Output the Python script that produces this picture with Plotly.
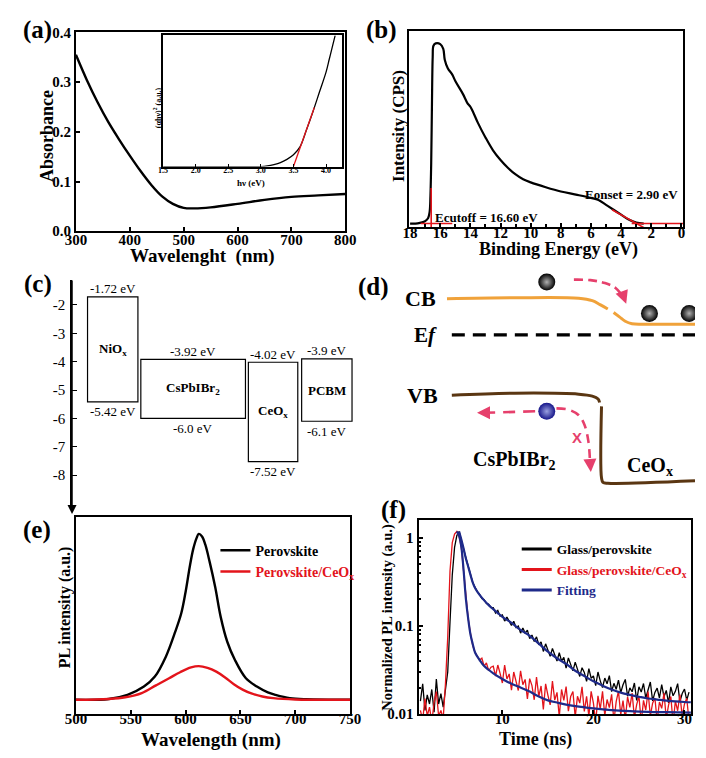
import plotly.graph_objects as go

SERIF = "Liberation Serif"
W, H = 706, 758

# ---------------- (a) absorbance + Tauc inset ----------------
abs_wavelength = [300, 320, 340, 360, 380, 400, 420, 440, 460, 480, 500, 520, 550, 600, 650, 700, 750, 800]
abs_value = [0.355, 0.305, 0.26, 0.22, 0.185, 0.152, 0.121, 0.093, 0.07, 0.055, 0.047, 0.046, 0.048, 0.055, 0.063,
             0.069, 0.072, 0.075]
tauc_hv = [1.5, 2.0, 2.5, 3.0, 3.1, 3.2, 3.3, 3.4, 3.5, 3.6, 3.7, 3.8, 3.9, 4.0, 4.05, 4.1, 4.14]
tauc_value = [0, 0, 0, 0, 0.005, 0.015, 0.03, 0.055, 0.09, 0.15, 0.28, 0.42, 0.57, 0.72, 0.82, 0.92, 1.0]
tauc_fit_hv = [3.50, 3.82]
tauc_fit_value = [0.0, 0.45]

# ---------------- (b) UPS ----------------
ups_be = [18.0, 17.5, 17.2, 17.0, 16.8, 16.7, 16.65, 16.6, 16.55, 16.5, 16.45, 16.3, 16.0, 15.8, 15.7,
          15.5, 15.2, 15.0, 14.5, 14.2, 14.0, 13.8, 13.5, 13.0, 12.5, 12.0, 11.5, 11.0, 10.5, 10.0,
          9.0, 8.0, 7.0, 6.0, 5.5, 5.0, 4.5, 4.0, 3.5, 3.0, 2.5]
ups_intensity = [0.007, 0.008, 0.013, 0.02, 0.036, 0.07, 0.15, 0.32, 0.62, 0.864, 0.922, 0.934, 0.93, 0.906, 0.85,
                 0.806, 0.773, 0.74, 0.674, 0.627, 0.608, 0.577, 0.525, 0.45, 0.384, 0.334, 0.293, 0.26, 0.235, 0.219,
                 0.194, 0.172, 0.156, 0.139, 0.128, 0.103, 0.078, 0.053, 0.028, 0.012, 0.007]
E_CUTOFF = 16.60
E_ONSET = 2.90
cutoff_line_be = [E_CUTOFF, E_CUTOFF]
cutoff_line_int = [-0.03, 0.19]
cutoff_base_be = [17.3, 15.2]
onset_tangent_be = [4.6, 2.4]
onset_tangent_int = [0.078, -0.018]
onset_base_be = [3.3, -0.2]
base_int = [0.007, 0.007]

# ---------------- (c) energy levels ----------------
materials = ["NiO<sub>x</sub>", "CsPbIBr<sub>2</sub>", "CeO<sub>x</sub>", "PCBM"]
level_top = [-1.72, -3.92, -4.02, -3.9]
level_bottom = [-5.42, -6.0, -7.52, -6.1]
top_labels = ["-1.72 eV", "-3.92 eV", "-4.02 eV", "-3.9 eV"]
bottom_labels = ["-5.42 eV", "-6.0 eV", "-7.52 eV", "-6.1 eV"]
energy_ticks = [-2, -3, -4, -5, -6, -7, -8]
energy_ticktext = ["-2", "-3", "-4", "-5", "-6", "-7", "-8"]

# ---------------- (e) steady-state PL ----------------
pl_wl_black = [500, 530, 547, 562, 572, 582, 590, 596, 600, 604, 607, 610, 612, 615, 618, 622, 627, 632,
               638, 645, 655, 665, 675, 682, 695, 710, 750]
pl_black = [0, 0.005, 0.03, 0.08, 0.14, 0.26, 0.4, 0.52, 0.65, 0.81, 0.91, 0.975, 1.0, 0.985, 0.935, 0.83, 0.68, 0.5,
            0.35, 0.24, 0.13, 0.08, 0.045, 0.03, 0.01, 0.003, 0]
pl_wl_red = [500, 530, 545, 560, 573, 585, 595, 605, 612, 620, 628, 636, 644, 652, 660, 670, 680, 700, 750]
pl_red = [0, 0.005, 0.015, 0.04, 0.087, 0.13, 0.166, 0.195, 0.203, 0.193, 0.17, 0.135, 0.094, 0.061, 0.038, 0.02,
          0.01, 0.002, 0]

# ---------------- (f) TRPL ----------------
trpl_time = [1.0, 1.25, 1.5, 1.75, 2.0, 2.25, 2.5, 2.75, 3.0, 3.25, 3.5, 3.75, 4.0, 4.25, 4.5, 4.75,
             5.0, 5.25, 5.5, 5.75, 6.0, 6.25, 6.5, 6.75, 7.0, 7.25, 7.5, 7.75, 8.0, 8.25, 8.5, 8.75,
             9.0, 9.25, 9.5, 9.75, 10.0, 10.25, 10.5, 10.75, 11.0, 11.25, 11.5, 11.75, 12.0, 12.25, 12.5, 12.75,
             13.0, 13.25, 13.5, 13.75, 14.0, 14.25, 14.5, 14.75, 15.0, 15.25, 15.5, 15.75, 16.0, 16.25, 16.5, 16.75,
             17.0, 17.25, 17.5, 17.75, 18.0, 18.25, 18.5, 18.75, 19.0, 19.25, 19.5, 19.75, 20.0, 20.25, 20.5, 20.75,
             21.0, 21.25, 21.5, 21.75, 22.0, 22.25, 22.5, 22.75, 23.0, 23.25, 23.5, 23.75, 24.0, 24.25, 24.5, 24.75,
             25.0, 25.25, 25.5, 25.75, 26.0, 26.25, 26.5, 26.75, 27.0, 27.25, 27.5, 27.75, 28.0, 28.25, 28.5, 28.75,
             29.0, 29.25, 29.5, 29.75, 30.0, 30.25, 30.5]
trpl_glass = [0.014, 0.022, 0.011, 0.0165, 0.013, 0.019, 0.0105, 0.025, 0.013, 0.017, 0.012, 0.020,
              0.030, 0.11, 0.38, 0.78, 1.06, 1.18, 0.96, 0.74,
              0.59, 0.47, 0.39, 0.31, 0.275, 0.245, 0.228, 0.205, 0.198, 0.18, 0.176, 0.161,
              0.161, 0.14, 0.15, 0.129, 0.133, 0.1135, 0.126, 0.114, 0.1015, 0.113, 0.096, 0.0996, 0.0828, 0.0948, 0.083, 0.0896,
              0.0716, 0.0788, 0.0665, 0.0752, 0.0611, 0.066, 0.0513, 0.0626, 0.0525, 0.0451, 0.0555, 0.0473, 0.04, 0.0498, 0.04, 0.0439,
              0.0333, 0.0433, 0.036, 0.0309, 0.0388, 0.0312, 0.0267, 0.0336, 0.0297, 0.0235, 0.0328, 0.0255, 0.027, 0.021, 0.030, 0.0238,
              0.020, 0.0256, 0.022, 0.0273, 0.018, 0.0223, 0.0191, 0.0242, 0.0175, 0.0215, 0.0247, 0.0159, 0.0198, 0.0179, 0.0225, 0.0143,
              0.0204, 0.0178, 0.0222, 0.0152, 0.0188, 0.0231, 0.0141, 0.0176, 0.0197, 0.0152, 0.0216, 0.0157, 0.0185, 0.0134, 0.0203, 0.0161,
              0.0181, 0.0221, 0.0138, 0.0171, 0.0192, 0.0144, 0.0177]
trpl_ceox = [0.011, 0.0085, 0.015, 0.0095, 0.012, 0.008, 0.0135, 0.018, 0.0095, 0.011, 0.0088, 0.022,
             0.075, 0.42, 0.88, 1.1, 1.18, 1.04, 0.77, 0.40,
             0.21, 0.12, 0.082, 0.06, 0.05, 0.046, 0.041, 0.043, 0.035, 0.038, 0.031, 0.034,
             0.035, 0.027, 0.036, 0.029, 0.0225, 0.036, 0.025, 0.0285, 0.0187, 0.030, 0.024, 0.0185, 0.031, 0.0215, 0.0247, 0.0148,
             0.0252, 0.021, 0.0145, 0.0262, 0.0158, 0.0208, 0.0113, 0.022, 0.0164, 0.0127, 0.0236, 0.0144, 0.0176, 0.0093, 0.019, 0.0143,
             0.0205, 0.0108, 0.0158, 0.018, 0.0092, 0.0159, 0.0133, 0.0204, 0.0107, 0.0159, 0.0094, 0.0181, 0.0133, 0.008, 0.0161, 0.0114,
             0.0181, 0.0096, 0.0146, 0.0118, 0.0167, 0.0083, 0.0138, 0.0182, 0.0098, 0.0142, 0.0087, 0.0157, 0.0119, 0.0173, 0.0091, 0.0128,
             0.016, 0.008, 0.0143, 0.0111, 0.018, 0.0095, 0.0133, 0.0152, 0.0084, 0.0137, 0.0116, 0.0173, 0.0089, 0.0126, 0.0158, 0.0079,
             0.014, 0.0109, 0.0166, 0.0094, 0.013, 0.0151, 0.0083]
fit_glass_time = [5.25, 5.5, 5.75, 6.0, 6.25, 6.5, 6.75, 7.0, 7.5, 8.0, 8.5, 9.0, 9.5, 10, 11, 12, 13, 14, 15, 16, 17,
                  18, 19, 20, 21, 22, 23, 24, 25, 26, 27, 28, 29, 30, 30.7]
fit_glass = [1.18, 0.95, 0.75, 0.58, 0.47, 0.38, 0.31, 0.27, 0.225, 0.195, 0.172, 0.155, 0.14, 0.127, 0.108, 0.09,
             0.077, 0.063, 0.051, 0.043, 0.037, 0.031, 0.027, 0.0235, 0.021, 0.019, 0.0175, 0.0165, 0.0157, 0.015,
             0.0146, 0.0142, 0.0139, 0.0137, 0.0136]
fit_ceox_time = [5.0, 5.25, 5.5, 5.75, 6.0, 6.25, 6.5, 6.75, 7.0, 7.5, 8.0, 9.0, 10, 11, 12, 13, 14, 15, 16, 17, 18,
                 20, 22, 24, 26, 28, 30.7]
fit_ceox = [1.18, 1.05, 0.78, 0.42, 0.2, 0.12, 0.08, 0.062, 0.05, 0.041, 0.035, 0.029, 0.025, 0.022, 0.02, 0.018,
            0.0158, 0.0143, 0.0135, 0.0128, 0.0123, 0.0116, 0.0111, 0.0108, 0.0106, 0.0105, 0.0104]

RED = "#E3141B"
BLUE = "#1E2A8A"
PINK = "#E6406C"
ORANGE = "#F0A23A"
BROWN = "#5A3612"

fig = go.Figure()


def dx(a, b):
    return [a / W, b / W]


def dy(top, bottom):
    return [1 - bottom / H, 1 - top / H]


def line(x, y, ax, color, width=2.0, dash=None, shape="spline", legend=None, name=None, showlegend=False):
    kw = dict(x=x, y=y, mode="lines", xaxis="x" + ax, yaxis="y" + ax,
              line=dict(color=color, width=width, dash=dash, shape=shape),
              showlegend=showlegend, hoverinfo="skip")
    if legend:
        kw["legend"] = legend
    if name:
        kw["name"] = name
    fig.add_trace(go.Scatter(**kw))


# (a)
line(abs_wavelength, abs_value, "", "black", 2.4)
line(tauc_hv, tauc_value, "2", "black", 1.3)
line(tauc_fit_hv, tauc_fit_value, "2", RED, 1.3, shape="linear")
# (b)
line(ups_be, ups_intensity, "3", "black", 2.2)
line(cutoff_line_be, cutoff_line_int, "3", RED, 1.6, shape="linear")
line(cutoff_base_be, base_int, "3", RED, 1.6, shape="linear")
line(onset_tangent_be, onset_tangent_int, "3", RED, 1.6, shape="linear")
line(onset_base_be, base_int, "3", RED, 1.6, shape="linear")
# (e)
line(pl_wl_black, pl_black, "6", "black", 2.4, legend="legend", name="Perovskite", showlegend=True)
line(pl_wl_red, pl_red, "6", RED, 2.4, legend="legend",
     name="<span style='color:%s'>Perovskite/CeO<sub>x</sub></span>" % RED, showlegend=True)
# (f)
line(trpl_time, trpl_glass, "7", "black", 1.3, shape="linear")
line(trpl_time, trpl_ceox, "7", RED, 1.3, shape="linear")
line(fit_glass_time, fit_glass, "7", BLUE, 2.2)
line(fit_ceox_time, fit_ceox, "7", BLUE, 2.2)
# legend entries for (f) drawn with thicker sample lines
line([None], [None], "7", "black", 3, legend="legend2", name="Glass/perovskite", showlegend=True)
line([None], [None], "7", RED, 3, legend="legend2",
     name="<span style='color:%s'>Glass/perovskite/CeO<sub>x</sub></span>" % RED, showlegend=True)
line([None], [None], "7", BLUE, 3, legend="legend2",
     name="<span style='color:%s'>Fitting</span>" % BLUE, showlegend=True)

# (d) schematic (pixel-like coordinates on a hidden axis)
line([450, 520, 586, 600, 608, 616], [297, 296, 296.5, 299, 303, 307.5], "5", ORANGE, 3)
line([622, 628, 634, 641, 652, 706], [311, 315.5, 320, 322.5, 323, 323], "5", ORANGE, 3)
line([455, 706], [334, 334], "5", "black", 3.2, dash="13px,8px", shape="linear")
line([455, 520, 586, 600, 606, 607.5], [395.5, 393.5, 394.5, 396.5, 399.5, 403], "5", BROWN, 3)
line([609.5, 609.5, 611, 616, 706], [407, 480, 484.5, 485.5, 483], "5", BROWN, 3)
line([581, 598, 613, 624, 631], [277.5, 278, 281, 286, 294], "5", PINK, 2.6, dash="9px,5px")
line([541, 488], [412, 413.5], "5", PINK, 2.6, dash="12px,8px", shape="linear")
line([563, 576, 586, 592, 596, 597.5], [409, 410.5, 416, 426, 443, 461], "5", PINK, 2.6, dash="9px,6px")
fig.add_trace(go.Scatter(x=[553, 659, 700], y=[280, 312, 312], mode="markers", xaxis="x5", yaxis="y5",
                         marker=dict(size=17, color="black", gradient=dict(type="radial", color="#b0b0b0"),
                                     line=dict(width=0)), showlegend=False, hoverinfo="skip"))
fig.add_trace(go.Scatter(x=[553], y=[412], mode="markers", xaxis="x5", yaxis="y5",
                         marker=dict(size=17, color="#16168a", gradient=dict(type="radial", color="#9aa0e0"),
                                     line=dict(width=0)), showlegend=False, hoverinfo="skip"))

shapes = []
annotations = []


def note(x, y, text, xref, yref, size, family=SERIF, color="black", xanchor="center", angle=0, **kw):
    d = dict(x=x, y=y, xref=xref, yref=yref, text=text, showarrow=False, xanchor=xanchor, yanchor="middle",
             textangle=angle, font=dict(family=family, size=size, color=color))
    d.update(kw)
    annotations.append(d)


# (c) energy axis line and boxes
shapes.append(dict(type="line", xref="x4", yref="y4", x0=63, x1=63, y0=-1.128, y1=-9.25,
                   line=dict(color="black", width=1.5)))
box_left = [79, 134, 245, 300]
box_right = [131, 242, 296, 352]
for i in range(4):
    shapes.append(dict(type="rect", xref="x4", yref="y4", x0=box_left[i], x1=box_right[i],
                       y0=level_bottom[i], y1=level_top[i], line=dict(color="black", width=1.2)))
    cx = (box_left[i] + box_right[i]) / 2
    note(cx, level_top[i], top_labels[i], "x4", "y4", 13, yshift=8)
    note(cx, level_bottom[i], bottom_labels[i], "x4", "y4", 13, yshift=-10)
    note(cx, (level_top[i] + level_bottom[i]) / 2, "<b>%s</b>" % materials[i], "x4", "y4", 13)
annotations.append(dict(x=63, y=-9.37, ax=63, ay=-9.0, xref="x4", yref="y4", axref="x4", ayref="y4",
                        text="", showarrow=True, arrowhead=2, arrowsize=1.2, arrowwidth=1.5, arrowcolor="black"))

# (b) labels
note(16.46, 0.036, "<b>Ecutoff = 16.60 eV</b>", "x3", "y3", 13, xanchor="left")
note(0.07, 0.156, "<b>Eonset = 2.90 eV</b>", "x3", "y3", 13, xanchor="right")

# (d) arrow heads and texts
for (hx, hy, tx, ty) in [(635, 302, 632, 294), (481, 413.5, 490, 413.5), (598.5, 474, 597.6, 462)]:
    annotations.append(dict(x=hx, y=hy, ax=tx, ay=ty, xref="x5", yref="y5", axref="x5", ayref="y5", text="",
                            showarrow=True, arrowhead=2, arrowsize=1.0, arrowwidth=2.6, arrowcolor=PINK))
note(584, 439, "<b>X</b>", "x5", "y5", 15, family="Liberation Sans", color=PINK)
for (tx, ty, txt, sz) in [(423, 297, "<b>CB</b>", 22), (428, 334, "<b>E<i>f</i></b>", 21), (425, 396, "<b>VB</b>", 22),
                          (520, 462, "<b>CsPbIBr<sub>2</sub></b>", 20), (660, 468, "<b>CeO<sub>x</sub></b>", 20)]:
    note(tx, ty, txt, "x5", "y5", sz)

# panel labels
for (lx, ly, t) in [(27, 22, "(a)"), (382, 22, "(b)"), (28, 282, "(c)"), (374, 285, "(d)"), (27, 533, "(e)"),
                    (395, 513, "(f)")]:
    note(lx / W, 1 - ly / H, "<b>%s</b>" % t, "paper", "paper", 25)

# axis titles (placed where the reference puts them)
for (tx, ty, txt, sz, ang) in [
        (198, 253, "Wavelenght\u00a0 (nm)", 19, 0), (37, 131, "Absorbance", 18, -90),
        (248, 179, "h\u03bd (eV)", 9, 0), (151, 102, "(\u03b1h\u03bd)<sup>2</sup> (a.u.)", 8, -90),
        (565, 247, "Binding Energy (eV)", 18, 0), (400, 121, "Intensity (CPS)", 17, -90),
        (206, 748, "Wavelength (nm)", 19, 0), (56, 612, "PL intensity (a.u.)", 16, -90),
        (541, 747, "Time (ns)", 18, 0), (389, 622, "Normalized PL intensity (a.u.)", 14.5, -90)]:
    note(tx / W, 1 - ty / H, "<b>%s</b>" % txt, "paper", "paper", sz, angle=ang)

tickfont = dict(family=SERIF, size=15, color="black", weight="bold")


def frame(**kw):
    d = dict(showline=True, linecolor="black", linewidth=2, mirror=True, showgrid=False, zeroline=False,
             ticks="inside", ticklen=4, tickwidth=1.5, tickcolor="black", tickfont=tickfont)
    d.update(kw)
    return d


layout = dict(
    width=W, height=H, margin=dict(l=0, r=0, t=0, b=0), paper_bgcolor="white", plot_bgcolor="rgba(0,0,0,0)",
    showlegend=True,
    xaxis=frame(domain=dx(67, 345), anchor="y", range=[300, 800], dtick=100, ticklabelstandoff=-6),
    yaxis=frame(domain=dy(25, 228), anchor="x", range=[0, 0.4], dtick=0.1, tickformat=".1f"),
    xaxis2=frame(domain=dx(157, 342), anchor="y2", range=[1.5, 4.25], dtick=0.5, tickformat=".1f", linewidth=1.5,
                 ticklen=3, tickwidth=1, ticklabelstandoff=-5,
                 tickfont=dict(family=SERIF, size=8, color="black", weight="bold")),
    yaxis2=frame(domain=dy(28, 162), anchor="x2", range=[0, 1.0], showticklabels=False, ticks="", linewidth=1.5),
    xaxis3=frame(domain=dx(411, 694), anchor="y3", range=[18.06, -0.13], tickvals=[18, 16, 14, 12, 10, 8, 6, 4, 2, 0],
                 minor=dict(ticks="inside", ticklen=3, dtick=1, tickcolor="black"), ticklabelstandoff=-9),
    yaxis3=frame(domain=dy(23, 224), anchor="x3", range=[-0.012, 1.0], showticklabels=False, ticks=""),
    xaxis4=dict(domain=dx(63, 355), anchor="y4", range=[63, 355], visible=False),
    yaxis4=dict(domain=dy(278, 510), anchor="x4", range=[-9.128, -1.128], showline=True, linecolor="black",
                linewidth=1.5, showgrid=False, zeroline=False, ticks="inside", ticklen=5, tickwidth=1.2,
                tickcolor="black", tickvals=energy_ticks, ticktext=energy_ticktext, ticklabelstandoff=2,
                tickfont=dict(family=SERIF, size=15, color="black")),
    xaxis5=dict(domain=dx(353, 706), anchor="y5", range=[353, 706], visible=False),
    yaxis5=dict(domain=dy(262, 500), anchor="x5", range=[500, 262], visible=False),
    xaxis6=frame(domain=dx(67, 350), anchor="y6", range=[500, 750], dtick=50, ticklabelstandoff=-10),
    yaxis6=frame(domain=dy(520, 721.7), anchor="x6", range=[-0.0885, 1.102], showticklabels=False, ticks=""),
    xaxis7=frame(domain=dx(420.7, 702), anchor="y7", range=[0.8, 30.73], tickvals=[10, 20, 30],
                 ticklabelstandoff=-10),
    yaxis7=frame(domain=dy(522.7, 721.7), anchor="x7", type="log", range=[-2.005, 0.206],
                 tickvals=[0.01, 0.1, 1], ticktext=["0.01", "0.1", "1"],
                 minor=dict(ticks="inside", ticklen=2.5, tickcolor="black",
                            tickvals=[0.02, 0.03, 0.04, 0.05, 0.06, 0.07, 0.08, 0.09,
                                      0.2, 0.3, 0.4, 0.5, 0.6, 0.7, 0.8, 0.9])),
    legend=dict(x=211 / W, y=1 - 538 / H, xanchor="left", yanchor="top", bgcolor="rgba(0,0,0,0)",
                font=dict(family=SERIF, size=14, color="black", weight="bold"), itemwidth=30, tracegroupgap=0),
    legend2=dict(x=522 / W, y=1 - 537 / H, xanchor="left", yanchor="top", bgcolor="rgba(0,0,0,0)",
                 font=dict(family=SERIF, size=13.5, color="black", weight="bold"), itemwidth=30, tracegroupgap=0),
    shapes=shapes, annotations=annotations,
)
fig.update_layout(**layout)
fig.write_html("out.html")
